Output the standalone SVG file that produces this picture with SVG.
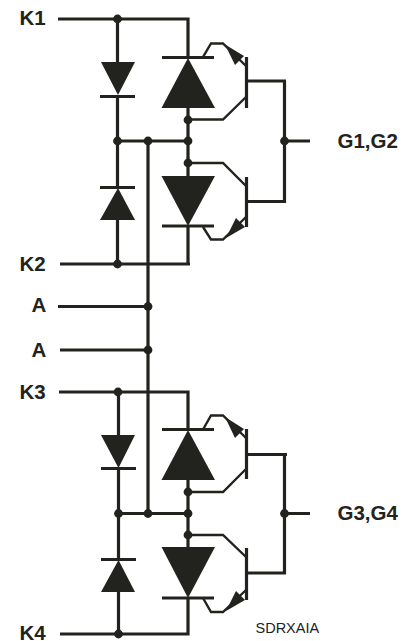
<svg xmlns="http://www.w3.org/2000/svg" width="408" height="641" viewBox="0 0 408 641">
<style>
.w{fill:none;stroke:#22231e;stroke-width:3.2}
.t{fill:none;stroke:#22231e;stroke-width:2.4}
.d{fill:#22231e;stroke:none}
.l{font-family:"Liberation Sans",Arial,sans-serif;font-weight:bold;font-size:20.5px;fill:#22231e}
.s{font-family:"Liberation Sans",Arial,sans-serif;font-size:14.500px;fill:#22231e}
</style>
<defs><circle id="j" r="4.4" class="d"/></defs>
<rect width="408" height="641" fill="#fff"/>
<g id="connectors">
<path class="w" d="M58 19H188V58M117.500 19V63M117.500 96V188M117.500 219V264M60 264H190M188 108V176M188 226V264M117.500 141H188M148 141V513.500M58 306.500H148M60 350H148M59 392H188V430M118.500 392V436M118.500 468V560M118.500 590V634M60 634H188V598M188 479V547M118.500 513.500H188"/>
<path class="w" d="M247 81H286M284.500 81V201.500H246M284.500 141H310M247 454.500H287M284.500 454.500V573H247M284.500 513.500H310"/>
<path class="t" d="M203 57L211 43.500H223L246 66M188 119.500H223L246 97M188 163H223L246 186M203 227L211 239.500H223L246 217M203 429.500L211 415.500H223L246 438M188 492H223L246 469M188 535H223L246 557M203 598L211 612H223L246 590"/>
</g>
<g id="node-d1"><path class="d" d="M101 62H135L118 95Z"/><path class="w" d="M100 96.500H135"/></g>
<g id="node-d2"><path class="d" d="M100 220H135L118 188Z"/><path class="w" d="M100 187.500H135"/></g>
<g id="node-d3"><path class="d" d="M161.500 108H215L188 58Z"/><path class="w" d="M162 57.500H214"/></g>
<g id="node-d4"><path class="d" d="M161.500 176H215L188 226Z"/><path class="w" d="M162 226H214"/></g>
<g id="node-d5"><path class="d" d="M101 435H135L118.500 468Z"/><path class="w" d="M101 468.500H136"/></g>
<g id="node-d6"><path class="d" d="M101 592H135L118.500 560Z"/><path class="w" d="M101 559.500H136"/></g>
<g id="node-d7"><path class="d" d="M161.500 480H215L188 430Z"/><path class="w" d="M162 429.500H214"/></g>
<g id="node-d8"><path class="d" d="M161.500 547H215L188 598Z"/><path class="w" d="M162 598H214"/></g>
<g id="node-q1"><path class="w" d="M246.500 57V108"/><path class="d" d="M225 44.500L244 56L235 65Z"/></g>
<g id="node-q2"><path class="w" d="M246.500 177V227"/><path class="d" d="M226 238L236 218L245 227Z"/></g>
<g id="node-q3"><path class="w" d="M246.500 429V479"/><path class="d" d="M225 417L244 429L235 438Z"/></g>
<g id="node-q4"><path class="w" d="M246.500 548V600"/><path class="d" d="M226 611L236 591L245 600Z"/></g>
<g id="junctions">
<use href="#j" x="117.500" y="19"/><use href="#j" x="117.500" y="141"/><use href="#j" x="148" y="141"/><use href="#j" x="188" y="141"/><use href="#j" x="188" y="120"/><use href="#j" x="188" y="163"/><use href="#j" x="117.500" y="264"/><use href="#j" x="284.500" y="141"/>
<use href="#j" x="148" y="306.500"/><use href="#j" x="148" y="350"/>
<use href="#j" x="118" y="392"/><use href="#j" x="118.500" y="513.500"/><use href="#j" x="148" y="513.500"/><use href="#j" x="188" y="513.500"/><use href="#j" x="188" y="492"/><use href="#j" x="188" y="535"/><use href="#j" x="118.500" y="634"/><use href="#j" x="284.500" y="513.500"/>
</g>
<g id="labels">
<text class="l" x="19.500" y="25">K1</text>
<text class="l" x="19.500" y="271">K2</text>
<text class="l" x="31.500" y="312">A</text>
<text class="l" x="31.500" y="357">A</text>
<text class="l" x="19.500" y="399">K3</text>
<text class="l" x="19.500" y="640">K4</text>
<text class="l" x="337.500" y="148">G1,G2</text>
<text class="l" x="337.500" y="520">G3,G4</text>
<text class="s" x="255.500" y="632.500">SDRXAIA</text>
</g>
</svg>
